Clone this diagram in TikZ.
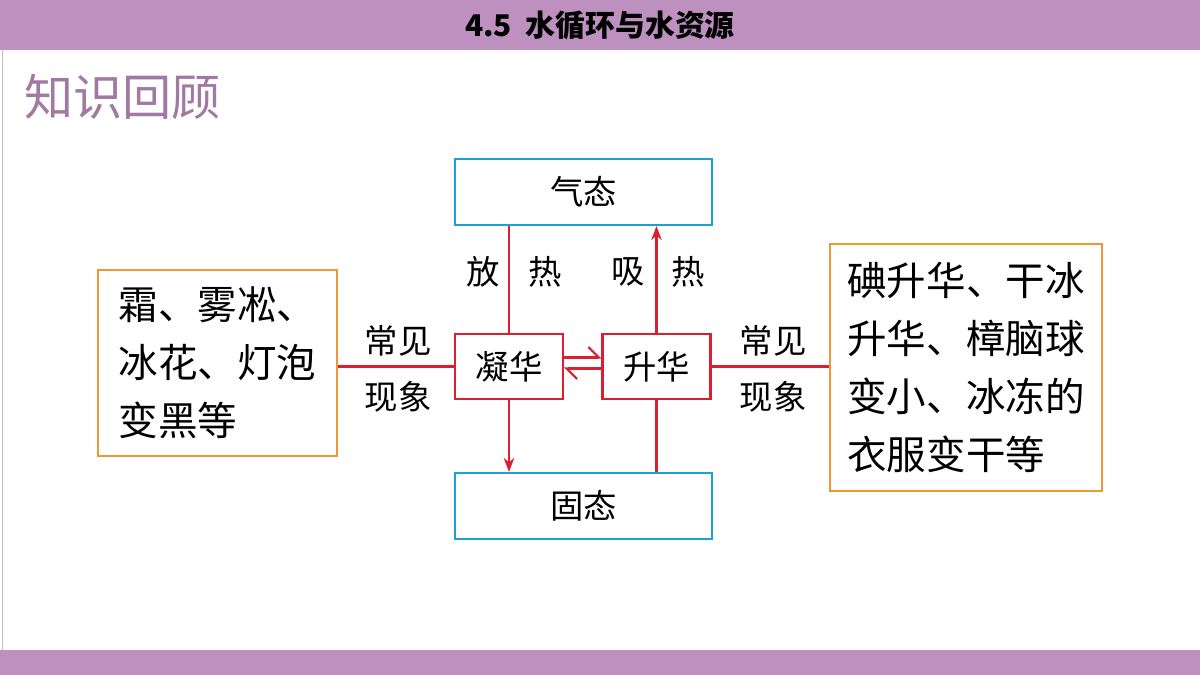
\documentclass[tikz,border=0pt]{standalone}
\usepackage{fontspec}
\setmainfont{Noto Sans CJK SC}
\usetikzlibrary{arrows.meta}
\definecolor{bar_purple}{RGB}{190,144,192}
\definecolor{box_blue}{RGB}{30,160,210}
\definecolor{box_red}{RGB}{220,30,50}
\definecolor{box_orange}{RGB}{240,150,50}
\begin{document}
\begin{tikzpicture}[x=0.02cm, y=-0.02cm,
		stateB/.style   = {draw = box_blue, line width = 1.2pt, rectangle,
			minimum width = 5.14cm, minimum height = 1.32cm,
			font = \fontsize{19}{20}\selectfont},
		changeR/.style  = {draw = box_red, line width = 1.2pt, rectangle,
			minimum width = 2.16cm, minimum height = 1.3cm,
			font = \fontsize{19}{20}\selectfont},
		exampleO/.style = {draw = box_orange, line width = 1.2pt, rectangle,
			align = left, anchor = north west, inner sep = 0.3cm,
			font = \fontsize{22.5}{33}\selectfont},
		lbl/.style      = {font = \fontsize{19}{20}\selectfont},
		link/.style     = {draw = box_red, line width = 1.2pt}]
		
		\useasboundingbox (0,0) rectangle (1200,675);
		\fill[bar_purple] (0,0) rectangle (1200,50);
		\fill[bar_purple] (0,650) rectangle (1200,675);
		\draw[gray!50] (2,50) -- (2,650);
		
		\node[font = \bfseries\fontsize{17}{20}\selectfont] (title) at (600,25) {4.5\ \ 水循环与水资源};
		\node[anchor = west, text = bar_purple!85!black, font = \fontsize{28}{30}\selectfont] (recap) at (18,97) {知识回顾};
		
		\node[stateB] (Gas) at (583.5,192) {气态};
		\node[stateB] (Solid) at (583.5,506) {固态};
		\node[changeR] (Dep) at (509,366.5) {凝华};
		\node[changeR] (Sub) at (656.5,366.5) {升华};
		
		\node[exampleO, minimum width = 4.78cm, minimum height = 3.72cm] (LeftEx) at (97,269)
		{霜、雾凇、\\冰花、灯泡\\变黑等};
		\node[exampleO, minimum width = 5.44cm, minimum height = 4.94cm] (RightEx) at (829,243)
		{碘升华、干冰\\升华、樟脑球\\变小、冰冻的\\衣服变干等};
		
		% connectors
		\path[link] (Dep.west) -- (LeftEx.east |- Dep.west);
		\path[link] (Sub.east) -- (RightEx.west |- Sub.east);
		\path[link] (Gas.south -| Dep.north) -- (Dep.north);
		\path[link, -{Stealth[length=8pt]}] (Dep.south) -- (Solid.north -| Dep.south);
		\path[link] (Solid.north -| Sub.south) -- (Sub.south);
		\path[link, -{Stealth[length=8pt]}] (Sub.north) -- (Gas.south -| Sub.north);
		\path[link, -{Straight Barb[harpoon, length=6pt]}] ([yshift=0.18cm]Dep.east) -- ([yshift=0.18cm]Sub.west);
		\path[link, -{Straight Barb[harpoon, length=6pt]}] ([yshift=-0.04cm]Sub.west) -- ([yshift=-0.04cm]Dep.east);
		
		% labels
		\node[lbl] (l1) at (398,341) {常见};
		\node[lbl] (l2) at (398,397) {现象};
		\node[lbl] (r1) at (773,341) {常见};
		\node[lbl] (r2) at (773,397) {现象};
		\node[lbl] (f1) at (483,272) {放};
		\node[lbl] (f2) at (545,272) {热};
		\node[lbl] (x1) at (628,272) {吸};
		\node[lbl] (x2) at (688,272) {热};
	\end{tikzpicture}
\end{document}
